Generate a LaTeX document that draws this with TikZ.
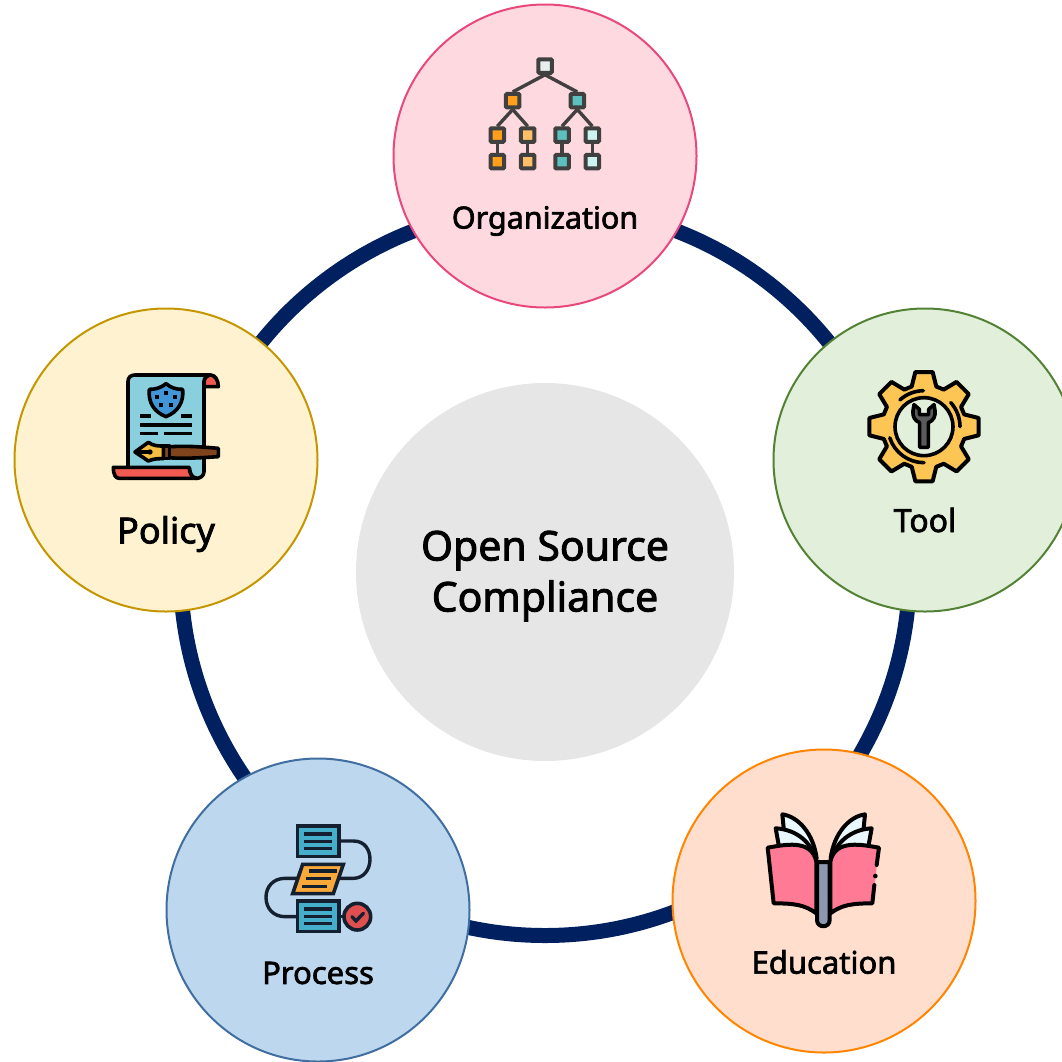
\documentclass[tikz,border=0pt]{standalone}
\usepackage{fontspec}
\setmainfont{Noto Sans}[FakeBold=2.2]
\definecolor{ringblue}{HTML}{002060}
\definecolor{iconline}{HTML}{404040}
\definecolor{inkblue}{HTML}{14202F}
\definecolor{centregray}{HTML}{E6E6E6}
\definecolor{orgline}{HTML}{E9487D}
\definecolor{orgfill}{HTML}{FFD9E0}
\definecolor{toolline}{HTML}{548235}
\definecolor{toolfill}{HTML}{E2EFDA}
\definecolor{eduline}{HTML}{FF8500}
\definecolor{edufill}{HTML}{FFDECE}
\definecolor{procline}{HTML}{406EA0}
\definecolor{procfill}{HTML}{BDD7EE}
\definecolor{polline}{HTML}{C49600}
\definecolor{polfill}{HTML}{FFF2D0}
\definecolor{scrollred}{HTML}{F05A50}
\definecolor{paperblue}{HTML}{8ACFDE}
\definecolor{shieldblue}{HTML}{4096D6}
\definecolor{penbrown}{HTML}{80441C}
\definecolor{nibyellow}{HTML}{F6BE40}
\definecolor{gearyellow}{HTML}{FDC554}
\definecolor{wrenchgray}{HTML}{5A5A5A}
\definecolor{boxteal}{HTML}{45AECB}
\definecolor{sheetorange}{HTML}{F9A83A}
\definecolor{checkred}{HTML}{E04F4F}
\definecolor{bookpink}{HTML}{FF7A95}
\definecolor{bookpage}{HTML}{E9F7FE}
\definecolor{bookspine}{HTML}{8D97B0}
\definecolor{rootfill}{HTML}{E8EEEE}
\tikzset{
	topic/.style={circle, draw=#1line, fill=#1fill, line width=2pt, minimum size=303pt, inner sep=0pt},
	topiclabel/.style={font=\fontsize{31}{34}\selectfont, text=black, inner sep=0pt},
	iconscale/.style={x=0.3333pt, y=-0.3333pt},
	treebox/.style={draw=iconline, line width=4pt, rounded corners=1pt, minimum size=13.5pt, inner sep=0pt, fill=#1},
	ink/.style={draw=black, line width=#1, line join=round, line cap=round},
	ink/.default=3.6pt,
	flowbox/.style={draw=inkblue, line width=3.6pt, fill=boxteal},
	flowline/.style={draw=inkblue, line width=3.4pt, line cap=round}
}
\begin{document}
\begin{tikzpicture}[x=1pt, y=-1pt]
	\useasboundingbox (0,0) rectangle (1062,1061);
	
	\node[circle, draw=ringblue, line width=15pt, minimum size=729pt, inner sep=0pt] (ring) at (545,571) {};
	\node[circle, fill=centregray, minimum size=378pt, inner sep=0pt] (centre) at (545,572) {};
	\node[align=center, inner sep=0pt, font=\fontsize{41}{51}\selectfont] (centrelabel) at (545,576) {Open Source\\Compliance};
	
	\node[topic=org] (org) at (545,156) {};
	\node[topic=tool] (tool) at (925,460) {};
	\node[topic=edu] (edu) at (824,901) {};
	\node[topic=proc] (proc) at (318,910) {};
	\node[topic=pol] (pol) at (166,460) {};
	
	\node[topiclabel, font=\fontsize{30.5}{34}\selectfont] (orglabel) at (545,221) {Organization};
	\node[topiclabel, font=\fontsize{32}{34}\selectfont] (toollabel) at (925,520) {Tool};
	\node[topiclabel] (edulabel) at (824,962) {Education};
	\node[topiclabel] (proclabel) at (318,973) {Process};
	\node[topiclabel, font=\fontsize{36}{38}\selectfont] (pollabel) at (166,534) {Policy};
	
	% tree
	\node[treebox=rootfill] (root) at (545,66) {};
	\foreach \px/\pc/\pname in {512.7/FF9F1C/a, 577.3/5BC0BE/b} {
		\definecolor{boxfill}{HTML}{\pc}
		\node[treebox=boxfill] (mid\pname) at (\px,100.7) {};
	}
	\foreach \px/\pc/\pname in {497.3/FF9F1C/a, 527.7/FFBF69/b, 562/5BC0BE/c, 592.3/CBF3F0/d} {
		\definecolor{boxfill}{HTML}{\pc}
		\node[treebox=boxfill] (up\pname) at (\px,135) {};
		\node[treebox=boxfill] (low\pname) at (\px,161.7) {};
		\draw[iconline, line width=3.4pt] (up\pname) -- (low\pname);
	}
	\draw[iconline, line width=3.4pt] (root.south) -- (mida.north) (root.south) -- (midb.north)
		(mida.south) -- (upa.north) (mida.south) -- (upb.north)
		(midb.south) -- (upc.north) (midb.south) -- (upd.north);
	
	% scroll and pen
	\begin{scope}[shift={(100pt,-360pt)}, iconscale]
	\draw[ink, fill=scrollred] (312,80) -- (312,65) .. controls (312,50) and (325,45) .. (332,45) .. controls (345,45) and (355,60) .. (355,80) -- cycle;
	\draw[ink, fill=paperblue] (84,325) -- (84,65) .. controls (84,52) and (92,45) .. (105,45) -- (332,45) .. controls (320,45) and (312,55) .. (312,65) -- (312,335) .. controls (312,348) and (300,355) .. (290,355) .. controls (278,355) and (270,345) .. (268,325) -- cycle;
	\draw[ink, fill=scrollred] (40,322) -- (268,322) .. controls (268,340) and (275,352) .. (290,355) -- (58,355) .. controls (47,355) and (40,345) .. (40,322) -- cycle;
	\draw[ink, fill=shieldblue] (198,71) .. controls (215,85) and (230,88) .. (248,88) .. controls (252,125) and (235,155) .. (198,170) .. controls (160,155) and (144,125) .. (148,88) .. controls (165,88) and (180,85) .. (198,71) -- cycle;
	\foreach \sx/\sy in {198/98, 171/110, 225/110, 183/136, 212/136}
		\fill[black] (\sx-6,\sy-6) rectangle (\sx+6,\sy+6);
	\draw[ink, line cap=butt] (120,168) -- (154,168) (243,168) -- (276,168) (120,195) -- (276,195) (120,221) -- (174,221) (191,221) -- (276,221);
	\draw[ink, fill=penbrown] (190,262) .. controls (250,255) and (320,262) .. (355,265) -- (355,290) .. controls (320,292) and (250,298) .. (190,292) -- cycle;
	\draw[ink, fill=penbrown] (190,258) -- (208,258) -- (208,296) -- (190,296) -- cycle;
	\draw[ink, fill=nibyellow] (105,276) -- (145,247) .. controls (160,258) and (175,258) .. (190,258) -- (190,296) .. controls (175,296) and (160,296) .. (145,303) -- cycle;
	\draw[ink] (108,276) -- (150,276);
	\fill[black] (150,276) circle (8);
	\end{scope}
	
	% gear
	\begin{scope}[shift={(855pt,-360pt)}, iconscale]
	\begin{scope}[shift={(207,200)}]
	\draw[ink=4pt, fill=gearyellow] (-17:126) \foreach \gear in {0,45,...,315} {
		-- (\gear-17:126) -- (\gear-9:166) -- (\gear+9:166) -- (\gear+17:126)
	} -- cycle;
	\draw[ink, fill=toolfill] (0,0) circle (87);
	\draw[ink] (228:108) arc (228:269:108);
	\draw[ink] (318:108) arc (318:360:108);
	\draw[ink] (90:108) arc (90:162:108);
	\draw[ink, fill=wrenchgray] (-13,62) -- (13,62) -- (13,-12) .. controls (28,-18) and (35,-30) .. (33,-48) -- (30,-66) -- (14,-52) -- (14,-36) -- (-14,-36) -- (-14,-52) -- (-30,-66) -- (-33,-48) .. controls (-35,-30) and (-28,-18) .. (-13,-12) -- cycle;
	\end{scope}
	\end{scope}
	
	% flow
	\begin{scope}[shift={(250pt,-815pt)}, iconscale]
	\draw[flowline] (267,78) -- (310,78) .. controls (345,78) and (360,105) .. (360,133) .. controls (360,165) and (340,190) .. (310,190) -- (265,190);
	\draw[flowline] (150,190) -- (105,190) .. controls (70,190) and (48,215) .. (48,247) .. controls (48,280) and (70,305) .. (105,305) -- (142,305);
	\draw[flowline] (267,305) -- (285,305);
	\foreach \by in {33,258} {
		\draw[flowbox] (142,\by) rectangle (267,\by+92);
		\foreach \ly in {24,46,68}
			\draw[flowline, line cap=butt] (162,\by+\ly) -- (247,\by+\ly);
	}
	\draw[flowbox, fill=sheetorange] (158,148) -- (280,148) -- (250,236) -- (128,236) -- cycle;
	\draw[flowline, line cap=butt] (178,168) -- (260,168) (168,191) -- (242,191) (156,214) -- (232,214);
	\draw[flowbox, fill=checkred] (322,305) circle (40);
	\draw[flowline] (306,305) -- (318,318) -- (340,295);
	\end{scope}
	
	% book
	\begin{scope}[shift={(755pt,-805pt)}, iconscale]
	\draw[ink=4pt, fill=bookpage] (82,28) .. controls (130,35) and (175,85) .. (185,160) -- (160,160) -- (90,110) -- cycle;
	\draw[ink=4pt, fill=bookpage] (62,70) .. controls (110,72) and (165,100) .. (180,160) -- (72,125) -- cycle;
	\draw[ink=4pt, fill=bookpage] (330,28) .. controls (282,35) and (237,85) .. (227,160) -- (252,160) -- (322,110) -- cycle;
	\draw[ink=4pt, fill=bookpage] (350,70) .. controls (302,72) and (247,100) .. (232,160) -- (340,125) -- cycle;
	\draw[ink=4pt, fill=bookpink] (38,128) .. controls (85,120) and (170,100) .. (184,170) -- (184,325) .. controls (150,300) and (120,295) .. (56,295) -- cycle;
	\fill[bookpink] (372,128) .. controls (325,120) and (240,100) .. (226,170) -- (226,325) .. controls (260,300) and (290,295) .. (352,295) -- cycle;
	\draw[ink=4pt] (365,180) -- (372,128) .. controls (325,120) and (240,100) .. (226,170) -- (226,325) .. controls (260,300) and (290,295) .. (352,295) -- (358,240);
	\fill[black] (361,213) circle (7);
	\draw[ink=4pt, fill=bookspine] (186,170) .. controls (195,172) and (215,172) .. (224,170) -- (224,345) .. controls (224,370) and (186,370) .. (186,345) -- cycle;
	\end{scope}
\end{tikzpicture}
\end{document}
